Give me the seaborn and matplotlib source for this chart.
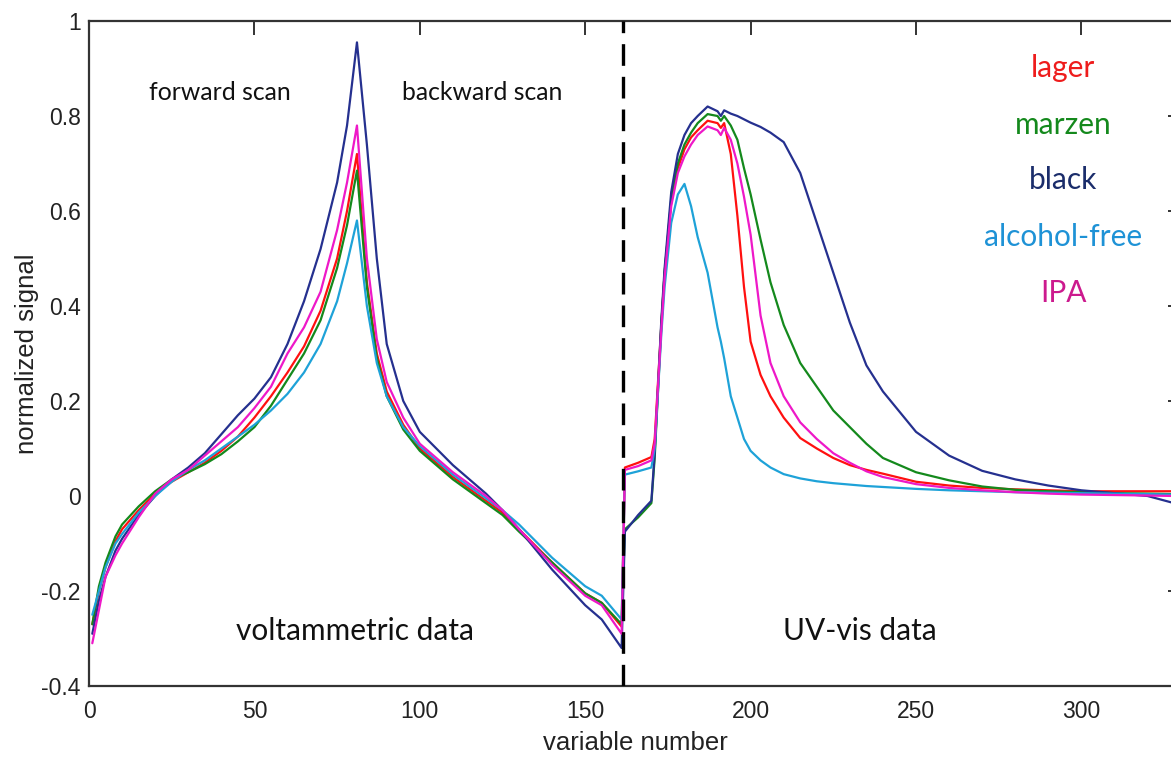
import numpy as np
import pandas as pd
import matplotlib
matplotlib.use("Agg")
import matplotlib.pyplot as plt
import seaborn as sns

# ── Data ──────────────────────────────────────────────────────────────────────

volt_x = [
    1, 3, 5, 8, 10, 15, 20, 25, 30, 35, 40, 45, 50, 55, 60, 65, 70, 75, 78, 81,
    84, 87, 90, 95, 100, 110, 120, 125, 130, 140, 150, 155, 161,
]
uv_x = [
    162, 166, 170, 171, 172, 173, 174, 176, 178, 180, 182, 184, 187, 190, 191,
    192, 194, 196, 198, 200, 203, 206, 210, 215, 220, 225, 230, 235, 240, 250,
    260, 270, 280, 290, 300, 310, 320, 328,
]
variable_number = volt_x + uv_x

lager = [
    -0.27, -0.20, -0.15, -0.095, -0.07, -0.03, 0.005, 0.03, 0.05, 0.07, 0.095,
    0.125, 0.165, 0.21, 0.26, 0.315, 0.39, 0.50, 0.60, 0.72,
    0.45, 0.30, 0.22, 0.15, 0.10, 0.04, -0.01, -0.035, -0.07, -0.14, -0.205,
    -0.225, -0.275,
    0.06, 0.07, 0.082, 0.12, 0.24, 0.36, 0.47, 0.62, 0.69, 0.73,
    0.755, 0.77, 0.79, 0.785, 0.775, 0.785, 0.72, 0.59, 0.44, 0.325,
    0.255, 0.21, 0.165, 0.122, 0.10, 0.08, 0.065, 0.055, 0.047, 0.03,
    0.022, 0.017, 0.014, 0.012, 0.01, 0.01, 0.01, 0.01,
]

marzen = [
    -0.27, -0.19, -0.14, -0.085, -0.06, -0.022, 0.01, 0.035, 0.05, 0.067, 0.088,
    0.115, 0.145, 0.19, 0.245, 0.30, 0.37, 0.48, 0.57, 0.685,
    0.44, 0.29, 0.21, 0.14, 0.095, 0.035, -0.015, -0.04, -0.075, -0.14, -0.205,
    -0.225, -0.27,
    -0.07, -0.045, -0.015, 0.08, 0.22, 0.36, 0.47, 0.625, 0.70, 0.74,
    0.765, 0.785, 0.804, 0.80, 0.79, 0.80, 0.78, 0.75, 0.69, 0.635,
    0.54, 0.45, 0.36, 0.28, 0.23, 0.18, 0.145, 0.11, 0.08, 0.05,
    0.033, 0.02, 0.013, 0.01, 0.008, 0.006, 0.005, 0.004,
]

black = [
    -0.29, -0.22, -0.17, -0.115, -0.09, -0.04, 0.0, 0.035, 0.06, 0.09, 0.13,
    0.17, 0.205, 0.25, 0.32, 0.41, 0.52, 0.66, 0.78, 0.955,
    0.74, 0.50, 0.32, 0.20, 0.135, 0.065, 0.005, -0.03, -0.07, -0.155, -0.23,
    -0.26, -0.32,
    -0.075, -0.04, -0.01, 0.09, 0.23, 0.37, 0.48, 0.64, 0.72, 0.76,
    0.785, 0.80, 0.82, 0.81, 0.80, 0.812, 0.805, 0.80, 0.793, 0.786,
    0.777, 0.765, 0.745, 0.68, 0.575, 0.47, 0.365, 0.275, 0.22, 0.135,
    0.085, 0.053, 0.035, 0.022, 0.012, 0.006, 0.0, -0.015,
]

alcohol_free = [
    -0.25, -0.20, -0.15, -0.10, -0.08, -0.035, 0.0, 0.03, 0.055, 0.075, 0.10,
    0.125, 0.15, 0.18, 0.215, 0.26, 0.32, 0.41, 0.49, 0.58,
    0.40, 0.28, 0.21, 0.145, 0.105, 0.045, -0.005, -0.03, -0.06, -0.13, -0.19,
    -0.21, -0.26,
    0.045, 0.052, 0.06, 0.10, 0.22, 0.34, 0.44, 0.575, 0.635, 0.657,
    0.61, 0.545, 0.47, 0.355, 0.325, 0.29, 0.21, 0.165, 0.12, 0.095,
    0.075, 0.06, 0.046, 0.037, 0.031, 0.027, 0.024, 0.021, 0.019, 0.015,
    0.012, 0.01, 0.008, 0.007, 0.006, 0.005, 0.004, 0.003,
]

ipa = [
    -0.31, -0.24, -0.17, -0.125, -0.10, -0.045, 0.005, 0.035, 0.055, 0.085,
    0.115, 0.145, 0.185, 0.23, 0.30, 0.355, 0.43, 0.56, 0.66, 0.78,
    0.50, 0.33, 0.24, 0.165, 0.11, 0.05, 0.0, -0.03, -0.07, -0.145, -0.21,
    -0.23, -0.29,
    0.055, 0.063, 0.075, 0.11, 0.23, 0.35, 0.46, 0.61, 0.68, 0.715,
    0.74, 0.76, 0.778, 0.77, 0.76, 0.775, 0.75, 0.70, 0.63, 0.55,
    0.38, 0.28, 0.21, 0.155, 0.12, 0.09, 0.07, 0.052, 0.04, 0.025,
    0.017, 0.012, 0.008, 0.005, 0.003, 0.002, 0.001, 0.0,
]

beer_names = ["lager", "marzen", "black", "alcohol-free", "IPA"]
beer_values = [lager, marzen, black, alcohol_free, ipa]

line_colors = {
    "lager": "#ff1010",
    "marzen": "#14891c",
    "black": "#25308f",
    "alcohol-free": "#1ea2d8",
    "IPA": "#ee18c8",
}
label_colors = {
    "lager": "#ee1c1c",
    "marzen": "#14891c",
    "black": "#1b2d6b",
    "alcohol-free": "#1e92d6",
    "IPA": "#cc1a8e",
}

# ── Long table for seaborn ────────────────────────────────────────────────────

frames = []
for name, vals in zip(beer_names, beer_values):
    frames.append(pd.DataFrame({"variable": variable_number, "signal": vals, "beer": name}))
beer_df = pd.concat(frames, ignore_index=True)

# ── Figure ────────────────────────────────────────────────────────────────────

sns.set_theme(style="white")
plt.rcParams["font.family"] = ["Liberation Sans", "DejaVu Sans"]

W, H = 1171, 761
fig = plt.figure(figsize=(W / 100, H / 100), dpi=100)
ax = fig.add_axes([89 / W, 1 - 686 / H, (1182 - 89) / W, (686 - 21) / H])

sns.lineplot(
    data=beer_df, x="variable", y="signal", hue="beer",
    hue_order=beer_names, palette=line_colors, linewidth=1.6,
    legend=False, sort=False, estimator=None, ax=ax,
)

ax.axvline(161.5, color="black", linewidth=2.4, linestyle=(0, (6.5, 3.3)), zorder=5)

ax.set_xlim(0, 330.4)
ax.set_ylim(-0.4, 1.0)
ax.set_xticks([0, 50, 100, 150, 200, 250, 300])
ax.set_yticks([-0.4, -0.2, 0, 0.2, 0.4, 0.6, 0.8, 1.0])
ax.set_yticklabels(["-0.4", "-0.2", "0", "0.2", "0.4", "0.6", "0.8", "1"])

ax.tick_params(direction="in", length=10, width=1.4, color="#333333",
               top=True, right=True, labelsize=16.5, labelcolor="#222222")
ax.tick_params(axis="x", pad=10)
ax.tick_params(axis="y", pad=6)
for spine in ax.spines.values():
    spine.set_color("#333333")
    spine.set_linewidth(1.6)

ax.set_xlabel("variable number", fontsize=18.5, color="#222222", labelpad=6)
ax.set_ylabel("normalized signal", fontsize=18.5, color="#222222", labelpad=2)

note_font = ["Lato", "DejaVu Sans"]
ax.text(39.6, 0.85, "forward scan", ha="center", va="center", fontsize=17.8,
        family=note_font, color="#111111")
ax.text(119, 0.85, "backward scan", ha="center", va="center", fontsize=17.8,
        family=note_font, color="#111111")
ax.text(80.4, -0.285, "voltammetric data", ha="center", va="center", fontsize=21.5,
        family=note_font, color="#111111")
ax.text(233, -0.285, "UV-vis data", ha="center", va="center", fontsize=21.5,
        family=note_font, color="#111111")

legend_y = [0.90, 0.78, 0.665, 0.545, 0.427]
for name, ly in zip(beer_names, legend_y):
    ax.text(294.5, ly, name, ha="center", va="center", fontsize=21.5,
            family=note_font, color=label_colors[name])

fig.savefig("out.png", dpi=100)
